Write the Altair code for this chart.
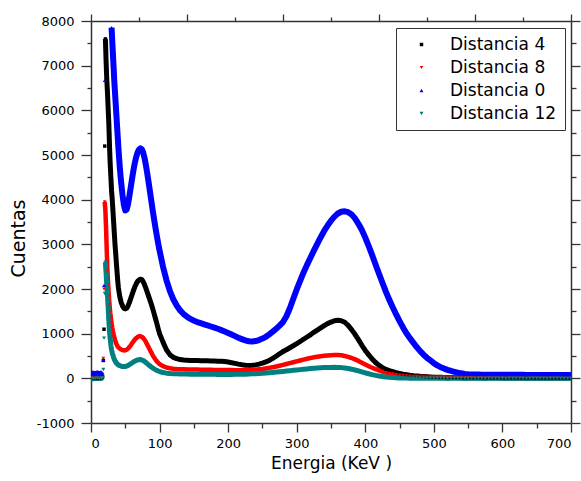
import altair as alt
import pandas as pd

energy = (list(range(0, 16, 3)) + list(range(17, 41)) +
          list(range(42, 101, 2)) + list(range(105, 701, 5)))

black_d4 = [
    5, 0, 10, 0, 5, 10,
    30, 400, 1100, 5200, 7600, 7100, 6700, 6400, 6050, 5700,
    5200, 4800, 4500, 4200, 4000, 3750, 3500, 3250, 3000, 2800,
    2580, 2380, 2180, 2020,
    1830, 1700, 1620, 1570, 1555, 1570, 1620, 1700, 1790, 1880,
    1970, 2050, 2120, 2170, 2200, 2220, 2210, 2170, 2100, 2020,
    1930, 1840, 1750, 1660, 1560, 1450, 1340, 1230, 1110, 1000,
    810, 640, 530, 470, 440, 420, 410, 405, 400, 400,
    398, 395, 395, 392, 390, 388, 385, 380, 375, 365,
    350, 335, 318, 305, 295, 290, 292, 300, 318, 340,
    368, 400, 445, 495, 550, 600, 640, 685, 730, 775,
    825, 875, 925, 975, 1030, 1080, 1130, 1180, 1225, 1260,
    1290, 1300, 1290, 1255, 1185, 1090, 985, 865, 740, 625,
    525, 435, 355, 290, 240, 200, 172, 150, 128, 110,
    95, 82, 70, 60, 52, 45, 40, 35, 30, 26,
    24, 22, 20, 19, 18, 17, 16, 15, 15, 14,
    14, 13, 13, 12, 12, 12, 11, 11, 11, 10,
    10, 10, 10, 9, 9, 9, 9, 9, 8, 8,
    8, 8, 8, 8, 7, 7, 7, 7, 7, 7,
]

red_d8 = [
    0, 5, 0, 5, 0, 10,
    20, 450, 2000, 3950, 3750, 3350, 2850, 2400, 2100, 1850,
    1650, 1480, 1350, 1230, 1130, 1050, 980, 920, 860, 810,
    770, 740, 710, 690,
    665, 645, 632, 625, 628, 640, 665, 700, 740, 785,
    830, 870, 900, 925, 940, 940, 930, 905, 865, 815,
    755, 695, 635, 575, 515, 465, 420, 380, 348, 320,
    272, 242, 226, 216, 210, 206, 203, 200, 198, 196,
    195, 194, 193, 192, 190, 189, 188, 187, 186, 185,
    184, 183, 182, 182, 183, 186, 190, 195, 202, 210,
    222, 235, 250, 265, 282, 300, 320, 340, 360, 380,
    400, 420, 438, 455, 470, 483, 495, 505, 512, 518,
    522, 522, 515, 500, 480, 455, 425, 390, 350, 310,
    272, 238, 205, 178, 152, 130, 112, 98, 85, 74,
    65, 57, 50, 44, 39, 35, 32, 29, 27, 25,
    24, 23, 22, 21, 20, 20, 19, 19, 18, 18,
    18, 17, 17, 17, 16, 16, 16, 16, 15, 15,
    15, 15, 15, 14, 14, 14, 14, 14, 14, 13,
    13, 13, 13, 13, 13, 12, 12, 12, 12, 12,
]

blue_d0 = [
    95, 105, 90, 110, 95, 105,
    120, 420, 2080, 6670, 9300, 10200, 10500, 10400, 10000, 9600,
    9200, 8800, 8300, 7850, 7550, 7250, 6950, 6650, 6400, 6150,
    5900, 5650, 5400, 5150,
    4720, 4380, 4100, 3880, 3760, 3780, 3900, 4080, 4280, 4480,
    4670, 4830, 4960, 5060, 5120, 5150, 5130, 5060, 4940, 4780,
    4590, 4390, 4180, 3970, 3760, 3560, 3370, 3190, 3020, 2860,
    2500, 2200, 1960, 1770, 1630, 1520, 1440, 1380, 1330, 1290,
    1260, 1235, 1210, 1185, 1160, 1135, 1110, 1080, 1050, 1015,
    980, 945, 910, 878, 850, 830, 825, 835, 858, 890,
    930, 985, 1045, 1110, 1180, 1260, 1390, 1570, 1780, 1990,
    2180, 2370, 2540, 2700, 2860, 3010, 3160, 3300, 3420, 3530,
    3620, 3690, 3730, 3740, 3720, 3670, 3580, 3460, 3320, 3150,
    2960, 2760, 2550, 2340, 2140, 1940, 1760, 1590, 1430, 1280,
    1140, 1010, 900, 800, 700, 610, 530, 460, 400, 340,
    290, 250, 218, 190, 165, 145, 126, 112, 100, 92,
    88, 86, 84, 83, 82, 81, 80, 80, 80, 79,
    79, 79, 78, 78, 78, 78, 77, 77, 77, 77,
    77, 76, 76, 76, 76, 76, 75, 75, 75, 75,
]

teal_d12 = [
    0, -10, 0, 5, -5, 0,
    10, 200, 900, 1900, 2600, 2350, 2100, 1850, 1600, 1300,
    1050, 880, 740, 640, 570, 515, 465, 425, 392, 365,
    343, 325, 310, 298,
    282, 272, 266, 263, 265, 274, 288, 306, 326, 346,
    366, 385, 400, 412, 418, 420, 412, 398, 378, 354,
    328, 302, 277, 253, 232, 212, 194, 178, 164, 152,
    130, 116, 108, 103, 100, 98, 96, 95, 94, 93,
    92, 91, 90, 90, 89, 89, 88, 88, 88, 88,
    88, 89, 90, 92, 94, 97, 100, 104, 109, 114,
    120, 126, 133, 140, 147, 155, 163, 171, 179, 187,
    195, 203, 211, 218, 225, 231, 236, 240, 243, 245,
    246, 245, 240, 232, 220, 205, 187, 167, 145, 123,
    102, 83, 66, 52, 40, 30, 22, 16, 12, 9,
    7, 5, 4, 3, 2, 2, 1, 1, 0, 0,
    0, 1, 0, -1, 0, 1, 0, 0, -1, 0,
    0, 1, 0, 0, -1, 0, 1, 0, 0, 0,
    -1, 0, 0, 1, 0, 0, -1, 0, 0, 1,
    0, 0, -1, 0, 0, 1, 0, 0, -1, 0,
]

series_names = ["Distancia 4", "Distancia 8", "Distancia 0", "Distancia 12"]
series_colors = ["#000000", "#ff0000", "#0000ff", "#008080"]
series_shapes = ["square", "triangle-down", "triangle-up", "triangle-down"]
series_sizes = [12, 16, 30, 28]
band_widths = [5, 4.5, 6, 5]
# energy (keV) where each series' dense band begins after its steep edge
band_start = [21, 20, 30, 21]

x_major = [0, 100, 200, 300, 400, 500, 600, 700]
x_minor = [50, 150, 250, 350, 450, 550, 650]
top_major = [0, 140, 280, 420, 560, 700]
top_minor = [70, 210, 350, 490, 630]
y_major = [-1000, 0, 1000, 2000, 3000, 4000, 5000, 6000, 7000, 8000]
y_minor = [-500, 500, 1500, 2500, 3500, 4500, 5500, 6500, 7500]

rows = []
for name, vals in zip(series_names, [black_d4, red_d8, blue_d0, teal_d12]):
    assert len(vals) == len(energy), (name, len(vals), len(energy))
    for e, v in zip(energy, vals):
        rows.append({"E": e, "C": v, "S": name})
df = pd.DataFrame(rows)
anchor = pd.DataFrame({"E": [0], "C": [0]})

FONT = "DejaVu Sans"
AX = "#333333"

x_scale = alt.Scale(domain=[0, 700], nice=False, zero=False)
y_scale = alt.Scale(domain=[-1000, 8000], nice=False, zero=False)


def axis(orient, values, size, labels=False, domain=False, **kw):
    return alt.Axis(
        orient=orient, values=values, tickSize=size, tickColor=AX,
        tickWidth=1.3, labels=labels, domain=domain, domainColor=AX,
        domainWidth=1.5, grid=False, **kw)


legend = alt.Legend(
    title=None, orient="none", legendX=305, legendY=7,
    strokeColor="#333333", fillColor="#ffffff",
    padding=8, rowPadding=5, symbolOffset=9, labelOffset=20,
    labelFont=FONT, labelFontSize=17, labelColor="#000000",
    symbolStrokeWidth=0, cornerRadius=0)

# dense point bands under the markers: the flat part before the edge and
# everything from the first peak on (the steep rising edge stays as points)
bands = []
for name, col, w, start in zip(series_names, series_colors, band_widths, band_start):
    for cond in ("datum.E <= 17", f"datum.E >= {start}"):
        bands.append(
            alt.Chart(df)
            .transform_filter(f"datum.S == '{name}' && {cond}")
            .mark_line(color=col, strokeWidth=w, clip=True, strokeJoin="round")
            .encode(
                x=alt.X("E:Q", scale=x_scale, axis=None),
                y=alt.Y("C:Q", scale=y_scale, axis=None),
            )
        )

points = alt.Chart(df).mark_point(filled=True, opacity=1, clip=True).encode(
    x=alt.X("E:Q", scale=x_scale, title="Energia (KeV )",
            axis=axis("bottom", x_major, 9, labels=True, domain=True,
                      labelFont=FONT, labelFontSize=13, labelColor="#000000",
                      labelPadding=5, labelExpr="'' + datum.value",
                      titleFont=FONT, titleFontSize=17, titleFontWeight="normal",
                      titleColor="#000000", titleY=40, titleBaseline="middle")),
    y=alt.Y("C:Q", scale=y_scale, title="Cuentas",
            axis=axis("left", y_major, 10, labels=True, domain=True,
                      labelFont=FONT, labelFontSize=13, labelColor="#000000",
                      labelPadding=7, labelExpr="'' + datum.value",
                      titleFont=FONT, titleFontSize=19, titleFontWeight="normal",
                      titleColor="#000000", titleX=-73, titleY=217,
                      titleAngle=270, titleBaseline="middle")),
    color=alt.Color("S:N", scale=alt.Scale(domain=series_names, range=series_colors),
                    legend=legend),
    shape=alt.Shape("S:N", scale=alt.Scale(domain=series_names, range=series_shapes),
                    legend=legend),
    size=alt.Size("S:N", scale=alt.Scale(domain=series_names, range=series_sizes),
                  legend=legend),
)

minor_bl = alt.Chart(anchor).mark_point(opacity=0).encode(
    x=alt.X("E:Q", scale=x_scale, title=None, axis=axis("bottom", x_minor, 5)),
    y=alt.Y("C:Q", scale=y_scale, title=None, axis=axis("left", y_minor, 4)),
)
major_tr = alt.Chart(anchor).mark_point(opacity=0).encode(
    x=alt.X("E:Q", scale=x_scale, title=None, axis=axis("top", top_major, 7, domain=True)),
    y=alt.Y("C:Q", scale=y_scale, title=None, axis=axis("right", y_major, 9, domain=True)),
)
minor_tr = alt.Chart(anchor).mark_point(opacity=0).encode(
    x=alt.X("E:Q", scale=x_scale, title=None, axis=axis("top", top_minor, 4)),
    y=alt.Y("C:Q", scale=y_scale, title=None, axis=axis("right", y_minor, 5)),
)

chart = alt.layer(*bands, points, minor_bl, major_tr, minor_tr).resolve_axis(
    x="independent", y="independent"
).properties(
    width=480, height=402,
    autosize=alt.AutoSizeParams(type="none"),
    padding={"left": 91, "top": 21, "right": 10, "bottom": 58},
    background="white",
).configure_view(stroke="transparent")

chart.save("out.html", embed_options={"renderer": "svg", "actions": False})
